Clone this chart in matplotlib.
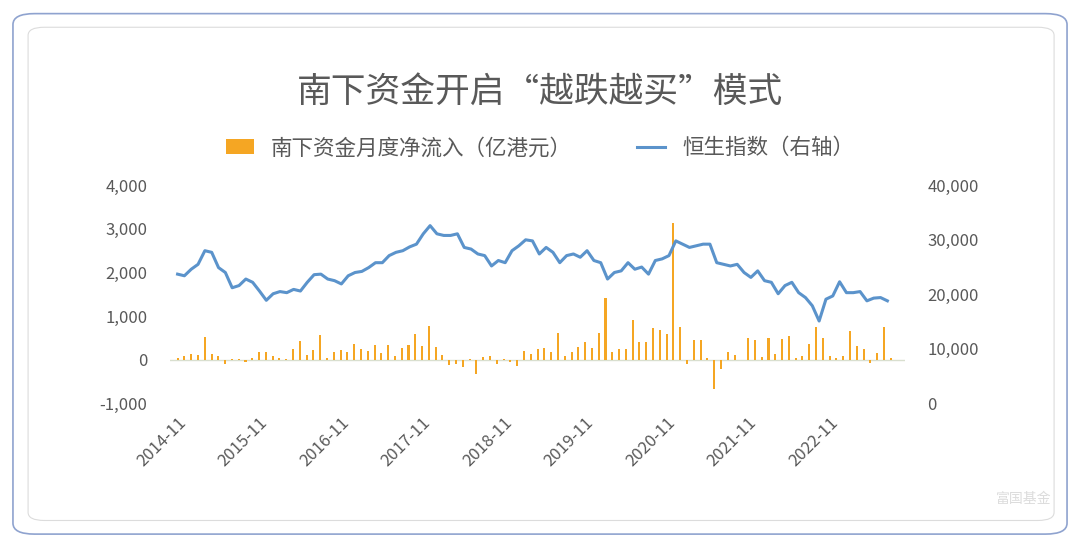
import matplotlib.pyplot as plt
from matplotlib.patches import FancyBboxPatch

plt.rcParams['font.family'] = ['Noto Sans CJK SC', 'DejaVu Sans']

# 南下资金月度净流入（亿港元），2014-11 起按月
flows = [50, 75, 140, 110, 510, 120, 75, -100, 25, 25, -50, 50, 170, 170, 75, 50, 25, 245,
         420, 100, 230, 575, 30, 170, 230, 175, 360, 250, 190, 345, 150, 345, 75, 270, 345,
         600, 305, 765, 300, 100, -115, -100, -170, 25, -320, 60, 75, -90, 25, -60, -150,
         205, 130,
         240, 270, 185, 605, 85, 175, 290, 415, 275, 620, 1410, 175, 255, 255, 900, 400, 415,
         730, 690, 580, 3130, 750, -90, 450, 450, 45, -670, -220, 175, 100, 0, 505, 450, 55,
         505, 120, 470, 545, 30, 85, 350, 750, 505, 85, 30, 85, 665, 305, 240, -70, 145, 745, 30]

# 恒生指数（右轴），按月取样
hsi = [23700, 23400, 24600, 25500, 28000, 27700, 24900, 24000, 21200, 21600, 22800, 22200,
       20600, 18900, 20100, 20500, 20300, 20900, 20600, 22200, 23600, 23700, 22800, 22500,
       21900, 23400, 24000, 24200, 24900, 25800, 25800, 27100, 27700, 28000, 28700, 29200,
       31100, 32600, 31100, 30800, 30800, 31100, 28600, 28300, 27400, 27100, 25200, 26200,
       25800, 28000, 28900, 30000,
       29800, 27400, 28600, 27700, 25800, 27100, 27400, 26800, 28000, 26200, 25800, 22800,
       24000, 24300, 25800, 24600, 25000, 23700, 26200, 26500, 27100, 29800, 29200, 28600,
       28900, 29200, 29200, 25800, 25500, 25200, 25500, 24000, 23100, 24300, 22500, 22200,
       20100, 21600, 22200, 20300, 19400, 17900, 15100, 19100, 19700, 22300, 20300, 20300,
       20500, 18800, 19300, 19400, 18800]

years = ['2014-11', '2015-11', '2016-11', '2017-11', '2018-11', '2019-11', '2020-11',
         '2021-11', '2022-11']

fig = plt.figure(figsize=(10.8, 5.45), dpi=100)
fig.patches.append(FancyBboxPatch((0.012, 0.02), 0.976, 0.955, boxstyle='round,pad=0,rounding_size=0.02',
                                  transform=fig.transFigure, fill=False, ec='#8fa3cf', lw=1.2))
fig.patches.append(FancyBboxPatch((0.026, 0.045), 0.95, 0.905, boxstyle='round,pad=0,rounding_size=0.015',
                                  transform=fig.transFigure, fill=False, ec='#dcdcdc', lw=0.8))

ax = fig.add_axes([0.157, 0.26, 0.681, 0.40])
grey = '#595959'
bar_c = '#F5A623'
line_c = '#5B93CB'

ax.bar(range(len(flows)), flows, width=0.3, color=bar_c, label='南下资金月度净流入（亿港元）', zorder=2)
ax.axhline(0, color='#d9dfcf', lw=1, zorder=1)
ax.set_ylim(-1000, 4000)
ax.set_yticks([-1000, 0, 1000, 2000, 3000, 4000])
ax.set_yticklabels([f'{v:,}' for v in [-1000, 0, 1000, 2000, 3000, 4000]])
ax.set_xlim(-1.18, 107.1)
ax.set_xticks(range(0, 97, 12))
ax.set_xticklabels(years, rotation=45, ha='right', rotation_mode='anchor')

ax2 = ax.twinx()
step = (len(flows) - 1.5) / (len(hsi) - 1)
ax2.plot([i * step for i in range(len(hsi))], hsi, color=line_c, lw=2.2, label='恒生指数（右轴）')
ax2.set_ylim(0, 40000)
ax2.set_yticks(range(0, 40001, 10000))
ax2.set_yticklabels([f'{v:,}' for v in range(0, 40001, 10000)])

for a in (ax, ax2):
    for s in a.spines.values():
        s.set_visible(False)
    a.tick_params(length=0, colors=grey, labelsize=12)
ax.tick_params(axis='x', pad=8)
ax.tick_params(axis='y', pad=16)
ax2.tick_params(axis='y', pad=16)

h1, l1 = ax.get_legend_handles_labels()
h2, l2 = ax2.get_legend_handles_labels()
fig.legend(h1 + h2, l1 + l2, loc='center', bbox_to_anchor=(0.5, 0.728), ncol=2, frameon=False,
           fontsize=15.5, labelcolor=grey, handlelength=1.3, columnspacing=3)

fig.text(0.5, 0.83, '南下资金开启“越跌越买”模式', ha='center', va='center', fontsize=25, color=grey)
fig.text(0.948, 0.085, '富国基金', ha='center', va='center', fontsize=10, color='#dcdcdc')

fig.savefig('out.png', dpi=100)
